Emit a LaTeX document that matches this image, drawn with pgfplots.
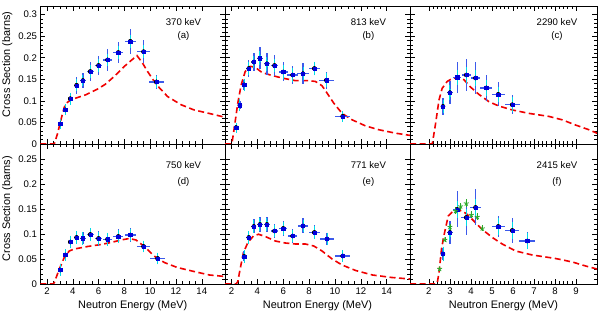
\documentclass[border=0pt]{standalone}
\usepackage{fontspec}
\setmainfont{Liberation Sans}
\usepackage{pgfplots}
\usepackage{pgfplotstable}
\pgfplotsset{compat=1.18}

% ---------- data: x  y  ex  ey  ec ----------
\pgfplotstableread{
x y ex ey ec
3.03 0.0465 0.15 0.005 0.004
3.42 0.079 0.18 0.010 0.005
3.81 0.105 0.20 0.012 0.006
4.30 0.136 0.22 0.019 0.006
4.79 0.147 0.25 0.017 0.006
5.36 0.168 0.28 0.022 0.007
6.00 0.182 0.30 0.022 0.007
6.70 0.195 0.33 0.025 0.007
7.53 0.212 0.38 0.025 0.007
8.46 0.238 0.42 0.029 0.007
9.49 0.214 0.52 0.026 0.007
10.48 0.144 0.57 0.017 0.007
}\da
\pgfplotstableread{
x y
1.5 0
2.57 0
2.83 0.025
3.1 0.058
3.34 0.085
3.6 0.097
3.9 0.103
4.5 0.109
5.0 0.114
5.9 0.127
6.5 0.138
7.0 0.151
7.5 0.165
8.0 0.180
8.5 0.193
8.98 0.205
9.4 0.188
9.8 0.168
10.2 0.150
10.6 0.134
11.35 0.110
12.4 0.091
13.4 0.079
14.7 0.070
15.8 0.062
}\ra
\pgfplotstableread{
x y ex ey ec
2.36 0.038 0.10 0.006 0.004
2.65 0.090 0.12 0.010 0.006
2.98 0.137 0.15 0.012 0.007
3.34 0.175 0.18 0.020 0.007
3.73 0.190 0.20 0.020 0.007
4.20 0.199 0.22 0.026 0.008
4.74 0.186 0.25 0.025 0.008
5.33 0.182 0.28 0.025 0.008
6.00 0.167 0.35 0.022 0.008
6.73 0.160 0.45 0.021 0.008
7.53 0.163 0.45 0.024 0.008
8.41 0.175 0.45 0.015 0.008
9.34 0.148 0.55 0.020 0.008
10.60 0.064 0.60 0.008 0.005
}\db
\pgfplotstableread{
x y
1.5 0
2.03 0
2.23 0.040
2.49 0.095
2.75 0.137
3.06 0.168
3.45 0.180
3.83 0.178
4.35 0.166
5.0 0.160
5.9 0.153
6.94 0.147
7.97 0.147
8.49 0.145
9.0 0.135
9.39 0.118
9.9 0.095
10.55 0.071
11.33 0.056
12.36 0.042
13.4 0.033
14.7 0.025
15.8 0.020
}\rb
\pgfplotstableread{
x y ex ey ec
2.67 0.087 0.10 0.019 0.008
3.00 0.119 0.15 0.027 0.009
3.35 0.155 0.20 0.036 0.010
3.78 0.160 0.20 0.037 0.010
4.22 0.153 0.20 0.036 0.010
4.73 0.130 0.28 0.031 0.010
5.30 0.115 0.30 0.028 0.010
5.97 0.091 0.35 0.022 0.010
}\dc
\pgfplotstableread{
x y
1.1 0
2.16 0
2.32 0.048
2.48 0.102
2.63 0.129
2.87 0.145
3.11 0.152
3.43 0.154
3.67 0.149
3.98 0.132
4.38 0.115
4.86 0.098
5.33 0.088
5.97 0.079
6.76 0.071
7.71 0.064
8.35 0.056
8.98 0.044
9.62 0.033
10.0 0.025
}\rc
\pgfplotstableread{
x y ex ey ec
3.03 0.028 0.15 0.008 0.005
3.42 0.058 0.18 0.008 0.005
3.81 0.084 0.20 0.011 0.006
4.30 0.093 0.22 0.013 0.006
4.79 0.0915 0.25 0.012 0.006
5.36 0.099 0.28 0.013 0.006
6.00 0.091 0.30 0.015 0.006
6.70 0.0895 0.33 0.012 0.006
7.53 0.095 0.38 0.014 0.006
8.46 0.098 0.42 0.014 0.006
9.49 0.075 0.52 0.010 0.005
10.58 0.051 0.57 0.008 0.005
}\dd
\pgfplotstableread{
x y
1.5 0
2.5 0
2.57 0.003
2.96 0.030
3.34 0.053
3.73 0.066
4.12 0.070
5.15 0.075
6.19 0.079
6.96 0.083
7.74 0.088
8.38 0.091
8.9 0.088
9.55 0.075
10.3 0.056
11.1 0.043
12.1 0.033
13.4 0.025
14.6 0.018
15.8 0.015
}\rd
\pgfplotstableread{
x y ex ey ec
2.98 0.055 0.15 0.010 0.006
3.34 0.093 0.18 0.012 0.006
3.73 0.115 0.20 0.014 0.006
4.20 0.119 0.22 0.015 0.006
4.74 0.119 0.25 0.015 0.006
5.33 0.106 0.28 0.014 0.006
6.00 0.111 0.30 0.015 0.006
6.73 0.096 0.33 0.014 0.006
7.53 0.116 0.40 0.015 0.006
8.41 0.103 0.42 0.014 0.006
9.39 0.090 0.52 0.012 0.006
10.60 0.056 0.60 0.010 0.005
}\de
\pgfplotstableread{
x y
1.5 0
2.36 0
2.49 0.005
2.67 0.030
2.93 0.063
3.27 0.083
3.7 0.096
4.09 0.0995
4.61 0.095
5.39 0.086
6.16 0.082
6.94 0.080
7.71 0.080
8.36 0.076
9.0 0.066
9.78 0.050
10.55 0.038
11.6 0.027
12.9 0.018
14.4 0.013
15.8 0.010
}\re
\pgfplotstableread{
x y ex ey ec
2.67 0.060 0.10 0.012 0.008
3.00 0.103 0.15 0.023 0.009
3.35 0.149 0.20 0.036 0.010
3.78 0.133 0.25 0.035 0.010
4.22 0.153 0.25 0.036 0.010
5.30 0.115 0.30 0.021 0.010
5.97 0.107 0.33 0.025 0.010
6.68 0.086 0.38 0.017 0.010
}\df
\pgfplotstableread{
x y ey
2.51 0.030 0.004
2.76 0.088 0.005
3.00 0.114 0.006
3.27 0.146 0.007
3.51 0.155 0.007
3.78 0.161 0.008
4.02 0.138 0.007
4.30 0.134 0.007
4.54 0.111 0.006
}\gf
\pgfplotstableread{
x y
1.1 0
2.32 0
2.4 0.003
2.48 0.023
2.6 0.070
2.71 0.096
2.92 0.136
3.11 0.144
3.35 0.148
3.59 0.146
3.83 0.139
4.14 0.126
4.54 0.109
5.02 0.093
5.49 0.080
6.13 0.066
6.92 0.058
8.03 0.051
8.83 0.044
9.46 0.036
10.0 0.030
}\rf

\definecolor{dblue}{RGB}{0,0,220}
\definecolor{lblue}{RGB}{60,90,235}
\definecolor{cyanb}{RGB}{0,220,230}
\definecolor{rootred}{RGB}{240,0,0}
\definecolor{gstar}{RGB}{40,170,40}

\pgfplotsset{
  panel/.style={
    scale only axis, anchor=south west,
    axis line style={line width=0.6pt},
    tick align=inside, tick pos=both,
    major tick length=5pt, minor tick length=2.6pt,
    every tick/.style={black, line width=0.5pt},
    tick label style={font=\fontsize{9.6}{11}\selectfont},
    /pgf/number format/assume math mode=true,
    label style={font=\fontsize{10.9}{13}\selectfont},
    minor y tick num=4,
  },
  wide/.style={xmin=1.5, xmax=15.8, xtick={2,4,...,14}, minor x tick num=3},
  narrow/.style={xmin=1.1, xmax=10, xtick={2,3,...,9}, minor x tick num=4},
  toprow/.style={height=138pt, ymin=0, ymax=0.32, ytick={0,0.05,0.1,0.15,0.2,0.25,0.3}, xticklabels={}},
  botrow/.style={height=140pt, ymin=0, ymax=0.28, ytick={0,0.05,0.1,0.15,0.2,0.25},
    xlabel={Neutron Energy (MeV)},
    xlabel style={at={(axis description cs:0.5,-0.155)}, anchor=center}},
  leftcol/.style={width=184.5pt, ylabel={Cross Section (barns)}},
  midcol/.style={width=185pt, yticklabels={}},
  rightcol/.style={width=187pt, yticklabels={}},
  stat/.style={only marks, mark=none, forget plot,
    error bars/.cd, x dir=both, x explicit, y dir=both, y explicit, error mark=none,
    error bar style={draw=lblue, line width=1.3pt}},
  syst/.style={only marks, mark=none, forget plot,
    error bars/.cd, y dir=both, y explicit, error mark=-,
    error mark options={draw=cyanb, line width=0.9pt, mark size=3.3pt},
    error bar style={draw=cyanb, line width=0.8pt}},
  pts/.style={only marks, mark=square*, mark size=1.6pt, color=dblue, forget plot},
  theory/.style={rootred, line width=1.6pt, dash pattern=on 6pt off 3.5pt, forget plot},
}

\newcommand{\panel}[3]{%
  \addplot[theory] table[x=x,y=y] {#2};
  \addplot[stat] table[x=x,y=y,x error=ex,y error=ey] {#1};
  \addplot[syst] table[x=x,y=y,y error=ec] {#1};
  \addplot[pts] table[x=x,y=y] {#1};
}

\begin{document}
\begin{tikzpicture}
\path[use as bounding box] (0pt,0pt) rectangle (598pt,316pt);

% (a)
\begin{axis}[panel, wide, toprow, leftcol, at={(40.5pt,172pt)},
  yticklabels={0,0.05,0.1,0.15,0.2,0.25,0.3},
  ylabel style={at={(axis description cs:-0.18,0.985)}, anchor=east}]
\panel{\da}{\ra}{}
\node[font=\fontsize{9.6}{11}\selectfont] at (axis description cs:0.775,0.886) {370 keV};
\node[font=\fontsize{9.6}{11}\selectfont] at (axis description cs:0.775,0.783) {(a)};
\end{axis}
% (b)
\begin{axis}[panel, wide, toprow, midcol, at={(225pt,172pt)}]
\panel{\db}{\rb}{}
\node[font=\fontsize{9.6}{11}\selectfont] at (axis description cs:0.775,0.886) {813 keV};
\node[font=\fontsize{9.6}{11}\selectfont] at (axis description cs:0.775,0.783) {(b)};
\end{axis}
% (c)
\begin{axis}[panel, narrow, toprow, rightcol, at={(410pt,172pt)}]
\panel{\dc}{\rc}{}
\node[font=\fontsize{9.6}{11}\selectfont] at (axis description cs:0.786,0.886) {2290 keV};
\node[font=\fontsize{9.6}{11}\selectfont] at (axis description cs:0.786,0.783) {(c)};
\end{axis}
% (d)
\begin{axis}[panel, wide, botrow, leftcol, at={(40.5pt,32pt)},
  xticklabels={2,4,6,8,10,12,14},
  yticklabels={0,0.05,0.1,0.15,0.2,0.25},
  ylabel style={at={(axis description cs:-0.18,0.94)}, anchor=east}]
\panel{\dd}{\rd}{}
\node[font=\fontsize{9.6}{11}\selectfont] at (axis description cs:0.775,0.85) {750 keV};
\node[font=\fontsize{9.6}{11}\selectfont] at (axis description cs:0.775,0.73) {(d)};
\end{axis}
% (e)
\begin{axis}[panel, wide, botrow, midcol, at={(225pt,32pt)},
  xticklabels={2,4,6,8,10,12,14}]
\panel{\de}{\re}{}
\node[font=\fontsize{9.6}{11}\selectfont] at (axis description cs:0.775,0.85) {771 keV};
\node[font=\fontsize{9.6}{11}\selectfont] at (axis description cs:0.775,0.73) {(e)};
\end{axis}
% (f)
\begin{axis}[panel, narrow, botrow, rightcol, at={(410pt,32pt)},
  xticklabels={2,3,4,5,6,7,8,9}]
\panel{\df}{\rf}{}
\addplot[only marks, mark=star, mark size=2.6pt, color=gstar, line width=0.8pt,
  error bars/.cd, y dir=both, y explicit, error mark=none,
  error bar style={draw=gstar, line width=0.6pt}] table[x=x,y=y,y error=ey] {\gf};
\node[font=\fontsize{9.6}{11}\selectfont] at (axis description cs:0.786,0.85) {2415 keV};
\node[font=\fontsize{9.6}{11}\selectfont] at (axis description cs:0.786,0.73) {(f)};
\end{axis}
\end{tikzpicture}
\end{document}
